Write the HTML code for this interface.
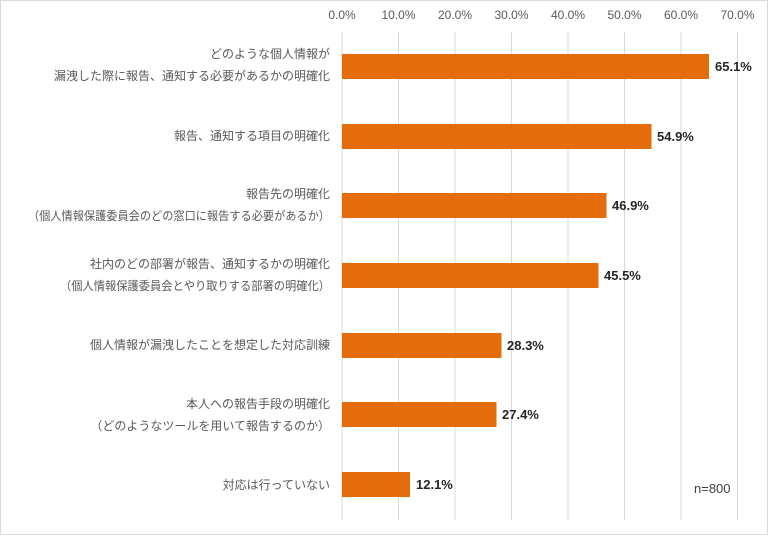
<!DOCTYPE html>
<html><head><meta charset="utf-8"><style>
body{margin:0;background:#fff;}
svg text{font-family:"Liberation Sans","Noto Sans CJK JP",sans-serif;}
</style></head><body>
<svg width="768" height="535" xmlns="http://www.w3.org/2000/svg">
<rect x="0.5" y="0.5" width="767" height="534" fill="#fff" stroke="#d9d9d9"/>
<g stroke="#d9d9d9" stroke-width="1">
<line x1="342" y1="32" x2="342" y2="520"/>
<line x1="398.5" y1="32" x2="398.5" y2="520"/>
<line x1="455" y1="32" x2="455" y2="520"/>
<line x1="511.5" y1="32" x2="511.5" y2="520"/>
<line x1="568" y1="32" x2="568" y2="520"/>
<line x1="624.5" y1="32" x2="624.5" y2="520"/>
<line x1="681" y1="32" x2="681" y2="520"/>
<line x1="737.5" y1="32" x2="737.5" y2="520"/>
</g>
<g font-size="12" fill="#595959" text-anchor="middle">
<text x="342" y="19">0.0%</text><text x="398.5" y="19">10.0%</text><text x="455" y="19">20.0%</text><text x="511.5" y="19">30.0%</text><text x="568" y="19">40.0%</text><text x="624.5" y="19">50.0%</text><text x="681" y="19">60.0%</text><text x="737.5" y="19">70.0%</text>
</g>
<g fill="#e46c0a">
<rect x="342" y="54" width="367" height="25"/>
<rect x="342" y="124" width="309.5" height="25"/>
<rect x="342" y="193" width="264.5" height="25"/>
<rect x="342" y="263" width="256.5" height="25"/>
<rect x="342" y="333" width="159.5" height="25"/>
<rect x="342" y="402" width="154.5" height="25"/>
<rect x="342" y="472" width="68" height="25"/>
</g>
<g font-size="13" font-weight="bold" fill="#262626">
<text x="715" y="71">65.1%</text>
<text x="657" y="141">54.9%</text>
<text x="612" y="210">46.9%</text>
<text x="604" y="280">45.5%</text>
<text x="507" y="350">28.3%</text>
<text x="502" y="419">27.4%</text>
<text x="416" y="489">12.1%</text>
</g>
<g font-size="12" fill="#595959" text-anchor="end">
<text x="330" y="58">どのような個人情報が</text>
<text x="330" y="80">漏洩した際に報告、通知する必要があるかの明確化</text>
<text x="330" y="140">報告、通知する項目の明確化</text>
<text x="330" y="198">報告先の明確化</text>
<text x="330" y="220" textLength="302" lengthAdjust="spacingAndGlyphs">（個人情報保護委員会のどの窓口に報告する必要があるか）</text>
<text x="330" y="268">社内のどの部署が報告、通知するかの明確化</text>
<text x="330" y="290" textLength="270" lengthAdjust="spacingAndGlyphs">（個人情報保護委員会とやり取りする部署の明確化）</text>
<text x="330" y="349">個人情報が漏洩したことを想定した対応訓練</text>
<text x="330" y="408">本人への報告手段の明確化</text>
<text x="330" y="430">（どのようなツールを用いて報告するのか）</text>
<text x="330" y="489">対応は行っていない</text>
</g>
<text x="694" y="493" font-size="13" fill="#404040">n=800</text>
</svg>
</body></html>
